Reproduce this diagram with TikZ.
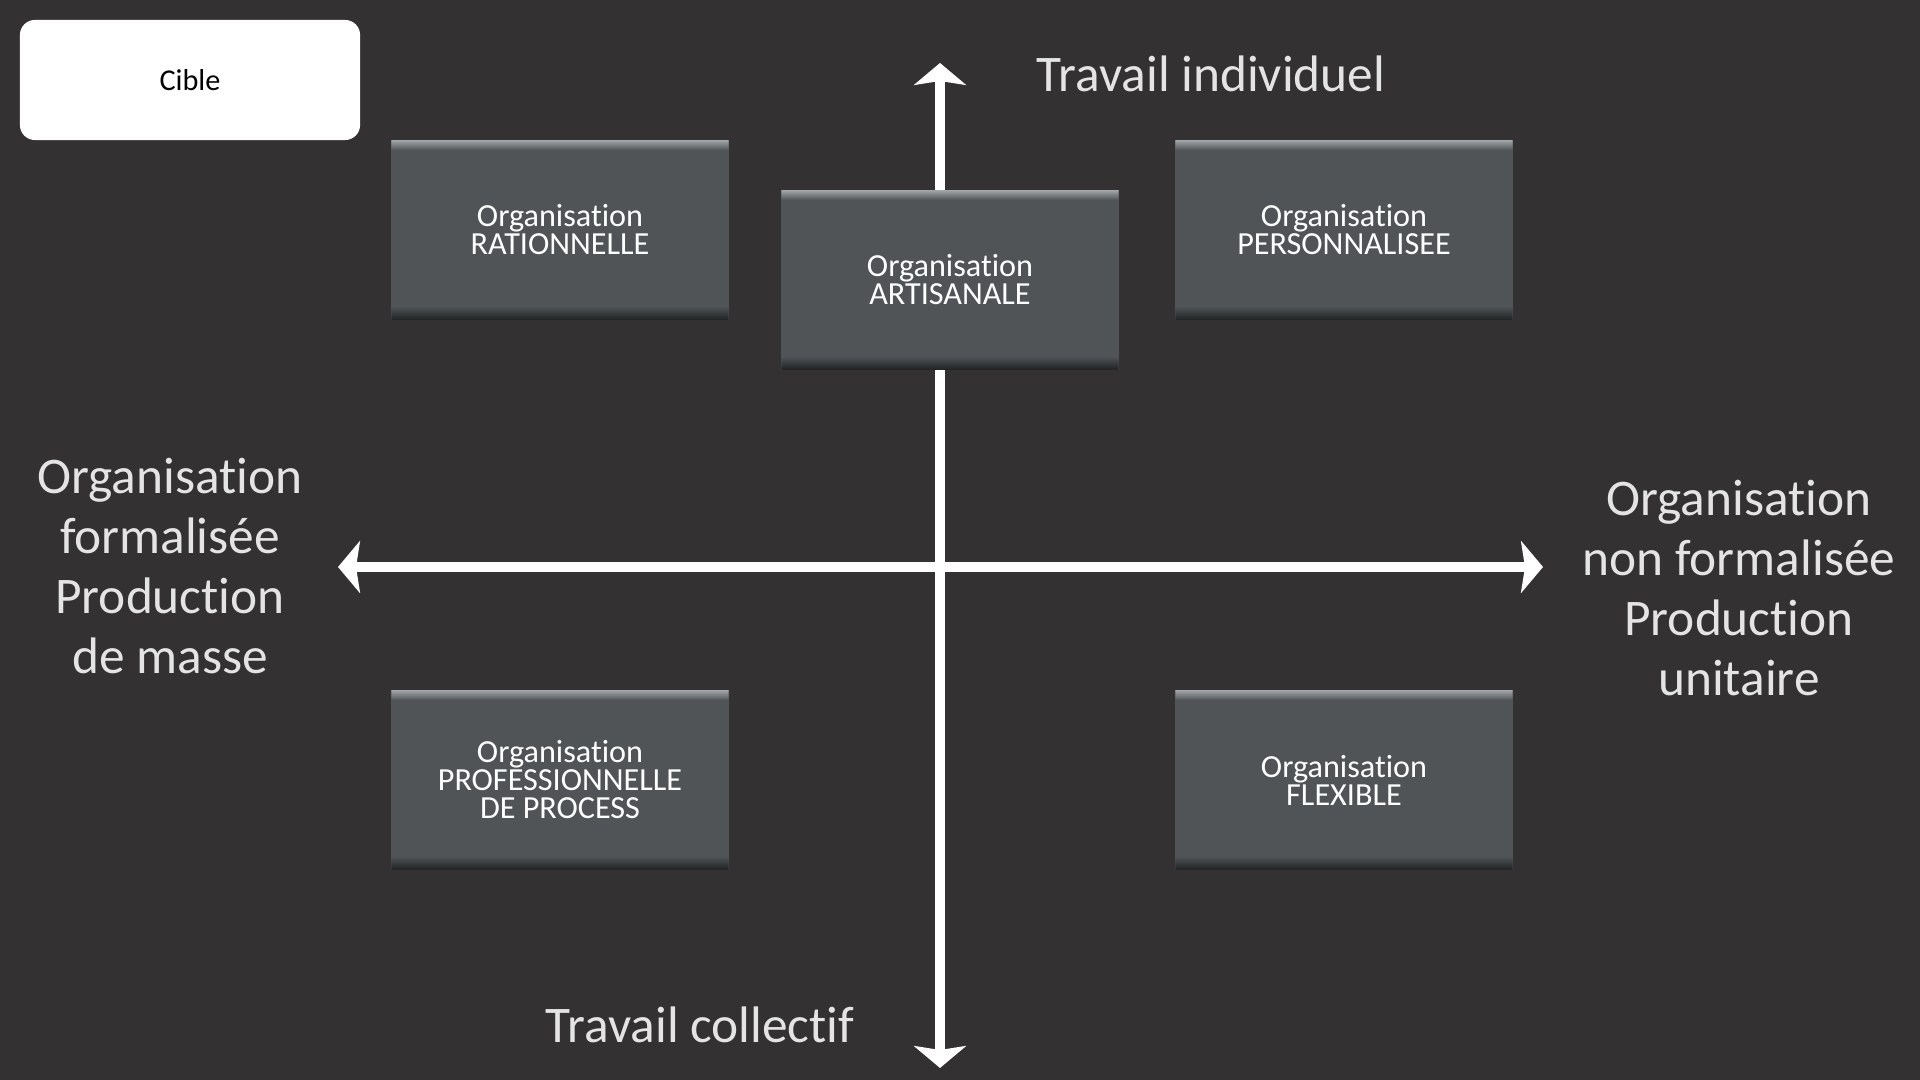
\documentclass[tikz,border=0pt]{standalone}
\usepackage{fontspec}
\setmainfont[Ligatures=NoCommon, RawFeature={-liga;-clig;-calt}]{Carlito}
\usetikzlibrary{positioning,arrows.meta}

\definecolor{fond}{RGB}{51,49,50}
\definecolor{boite}{RGB}{80,84,87}
\definecolor{reflet}{RGB}{165,168,170}
\definecolor{ombre}{RGB}{34,36,37}
\definecolor{texte}{RGB}{228,228,228}

\tikzset{
    orgbox/.style={fill=boite, minimum width=3.37cm, minimum height=1.8cm,
        text=white, align=center, font=\fontsize{9.15}{7.95}\selectfont,
        path picture={
            \foreach \k in {0, 1, ..., 9} {
                \pgfmathtruncatemacro{\m}{\k*10}
                \fill[boite!\m!reflet]
                    ([yshift=-\k*0.01cm]path picture bounding box.north west) rectangle
                    ([yshift=-\k*0.01cm-0.011cm]path picture bounding box.north east);
            }
            \foreach \k in {0, 1, ..., 12} {
                \pgfmathtruncatemacro{\m}{\k*8}
                \fill[boite!\m!ombre]
                    ([yshift=\k*0.01cm]path picture bounding box.south west) rectangle
                    ([yshift=\k*0.01cm+0.011cm]path picture bounding box.south east);
            }
        }},
    axislabel/.style={text=texte, align=center, font=\fontsize{14.6}{17.1}\selectfont},
    axe/.style={white, line width=0.1cm,
        {Stealth[length=0.22cm, width=0.52cm, inset=0.04cm]}-{Stealth[length=0.22cm, width=0.52cm, inset=0.04cm]}}
}

\begin{document}
\begin{tikzpicture}[x=0.01cm, y=-0.01cm]
        \fill[fond] (0, 0) rectangle (1920, 1080);
        \useasboundingbox (0, 0) rectangle (1920, 1080);

        % axes
        \coordinate (haut) at (940, 63);
        \coordinate (bas) at (940, 1068);
        \coordinate (gauche) at (338, 567);
        \coordinate (droite) at (1543, 567);
        \draw[axe] (bas) -- (haut);
        \draw[axe] (gauche) -- (droite);

        \node[axislabel] (indiv) at (1211, 74) {Travail individuel};
        \node[axislabel] (collectif) at (700, 1025) {Travail collectif};
        \node[axislabel] (formalisee) at (170, 566) {Organisation\\formalisée\\Production\\de masse};
        \node[axislabel] (nonformalisee) at (1739, 588) {Organisation\\non formalisée\\Production\\unitaire};

        % cible
        \node[fill=white, rounded corners=0.15cm, minimum width=3.4cm, minimum height=1.2cm,
            font=\fontsize{8.6}{10}\selectfont] (cible) at (190, 80) {Cible};

        % organisations
        \node[orgbox] (rationnelle) at (560, 230) {Organisation\\RATIONNELLE};
        \node[orgbox] (artisanale) at (950, 280) {Organisation\\ARTISANALE};
        \node[orgbox] (personnalisee) at (1344, 230) {Organisation\\PERSONNALISEE};
        \node[orgbox] (professionnelle) at (560, 780) {Organisation\\PROFESSIONNELLE\\DE PROCESS};
        \node[orgbox] (flexible) at (1344, 780) {Organisation\\FLEXIBLE};
    \end{tikzpicture}
\end{document}
